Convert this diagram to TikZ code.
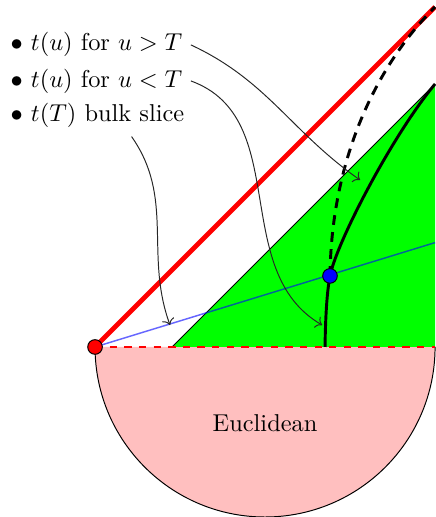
\documentclass[tikz,border=0pt]{standalone}
\usepackage{amsmath,amssymb}
\usepackage{tikz}
\usetikzlibrary{arrows.meta}
\usepackage{xcolor}
\definecolor{lorentzc}{HTML}{00FF00}
\definecolor{euclidc}{HTML}{FFBFBF}

\begin{document}
\begin{tikzpicture}[x=2.45cm, y=2.45cm,
  curvec/.style={black, very thick},
  pointer/.style={->, black!85},
  itemc/.style={anchor=base west},
  dotc/.style={circle, draw=black, inner sep=0pt, minimum size=6pt}]
  \useasboundingbox (-1.559,-1) rectangle (1,2.041);
  \coordinate (tip) at (-1,0);
  \coordinate (corner) at (1,2);
  \coordinate (cross) at (0.382,0.418);
  \coordinate (slicend) at (1,0.614);
  % euclidean half disk
  \fill[euclidc] (-1,0) arc (180:360:1) -- cycle;
  \draw (-1,0) arc (180:360:1);
  \node[anchor=base] (eucl) at (0,-0.5) {Euclidean};
  % lorentzian wedge
  \fill[lorentzc] (-0.547,0) -- (1,1.547) -- (1,0) -- cycle;
  \draw (-0.547,0) -- (1,1.547);
  \draw[red, line width=2pt] (tip) -- (corner);
  \draw[blue, opacity=0.6, semithick] (tip) -- (slicend);
  \draw[curvec] (0.353,0) .. controls (0.355,0.2) and (0.367,0.343) .. (cross)
    .. controls (0.422,0.618) and (0.75,1.247) .. (1,1.547);
  \draw[curvec, dash pattern=on 4pt off 3pt]
    (cross) .. controls (0.39,1.1) and (0.65,1.65) .. (corner);
  \draw[red, very thick, dashed] (-1,0) -- (1,0);
  \node[dotc, fill=red] (tipdot) at (tip) {};
  \node[dotc, fill=blue] (crossdot) at (cross) {};
  % labels
  \node[itemc] (later) at (-1.547,1.741) {$\bullet$\ $t(u)$ for $u>T$};
  \node[itemc] (earlier) at (-1.547,1.529) {$\bullet$\ $t(u)$ for $u<T$};
  \node[itemc] (slice) at (-1.547,1.324) {$\bullet$\ $t(T)$ bulk slice};
  \coordinate (hitlater) at (0.559,0.982);
  \coordinate (hitearlier) at (0.336,0.129);
  \coordinate (hitslice) at (-0.559,0.129);
  \draw[pointer] (later.east) to[out=-25, in=145] (hitlater);
  \draw[pointer] (earlier.east) to[out=-20, in=150] (hitearlier);
  \draw[pointer] ([xshift=14pt]slice.south) to[out=-55, in=110] (hitslice);
\end{tikzpicture}
\end{document}
